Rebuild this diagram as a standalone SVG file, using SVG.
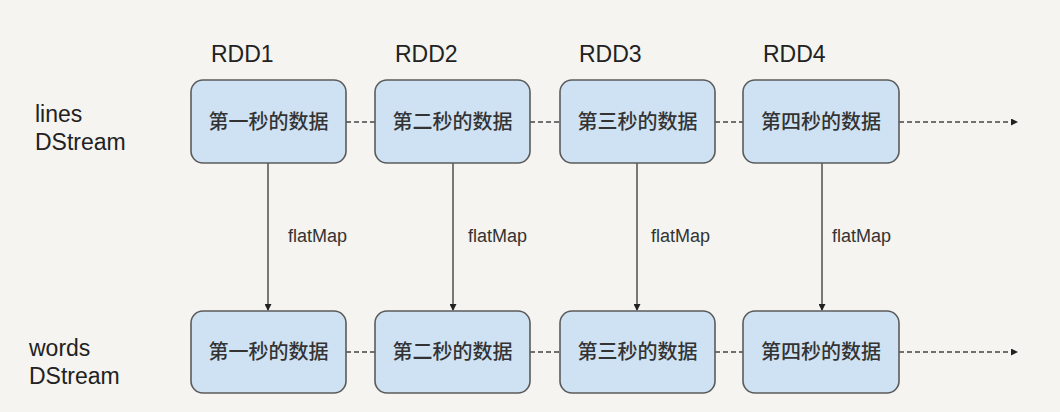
<svg xmlns="http://www.w3.org/2000/svg" width="1060" height="412" viewBox="0 0 1060 412">
<style>
.bg{fill:#f5f4f0}
.box{fill:#cfe2f3;stroke:#5b5b5b;stroke-width:1.6}
.cn{font-family:"Noto Sans CJK SC","Liberation Sans",sans-serif;font-size:20px;font-weight:500;fill:#333;text-anchor:middle}
.lbl{font-family:"Liberation Sans",Arial,sans-serif;font-size:23px;fill:#222}
.fm{font-family:"Liberation Sans",Arial,sans-serif;font-size:18px;fill:#333}
.dash{stroke:#444;stroke-width:1.4;stroke-dasharray:5 3;fill:none}
.solid{stroke:#444;stroke-width:1.4;fill:none}
</style>
<defs>
<marker id="ah" markerWidth="7" markerHeight="7" refX="6" refY="3.5" orient="auto" markerUnits="userSpaceOnUse">
<path d="M0,0 L7,3.5 L0,7 z" fill="#222"/>
</marker>
</defs>
<rect class="bg" x="0" y="0" width="1060" height="412"/>
<g id="labels">
<text class="lbl" x="211" y="62">RDD1</text>
<text class="lbl" x="395" y="62">RDD2</text>
<text class="lbl" x="579" y="62">RDD3</text>
<text class="lbl" x="763" y="62">RDD4</text>
<text class="lbl" x="35" y="122">lines</text>
<text class="lbl" x="35" y="150">DStream</text>
<text class="lbl" x="29" y="356">words</text>
<text class="lbl" x="29" y="384">DStream</text>
</g>
<g id="connectors">
<line class="dash" x1="346" y1="122" x2="375" y2="122"/>
<line class="dash" x1="530" y1="122" x2="560" y2="122"/>
<line class="dash" x1="715" y1="122" x2="743" y2="122"/>
<line class="dash" x1="899" y1="122" x2="1017" y2="122" marker-end="url(#ah)"/>
<line class="dash" x1="346" y1="352" x2="375" y2="352"/>
<line class="dash" x1="530" y1="352" x2="560" y2="352"/>
<line class="dash" x1="715" y1="352" x2="743" y2="352"/>
<line class="dash" x1="899" y1="352" x2="1017" y2="352" marker-end="url(#ah)"/>
<line class="solid" x1="268" y1="163" x2="268" y2="310" marker-end="url(#ah)"/>
<line class="solid" x1="453" y1="163" x2="453" y2="310" marker-end="url(#ah)"/>
<line class="solid" x1="637" y1="163" x2="637" y2="310" marker-end="url(#ah)"/>
<line class="solid" x1="822" y1="163" x2="822" y2="310" marker-end="url(#ah)"/>
<text class="fm" x="288" y="242">flatMap</text>
<text class="fm" x="468" y="242">flatMap</text>
<text class="fm" x="651" y="242">flatMap</text>
<text class="fm" x="832" y="242">flatMap</text>
</g>
<g id="l1"><rect class="box" x="191" y="80" width="155" height="83" rx="12"/><text class="cn" x="268.5" y="129">第一秒的数据</text></g>
<g id="l2"><rect class="box" x="375" y="80" width="155" height="83" rx="12"/><text class="cn" x="452.5" y="129">第二秒的数据</text></g>
<g id="l3"><rect class="box" x="560" y="80" width="155" height="83" rx="12"/><text class="cn" x="637.5" y="129">第三秒的数据</text></g>
<g id="l4"><rect class="box" x="743" y="80" width="156" height="83" rx="12"/><text class="cn" x="821" y="129">第四秒的数据</text></g>
<g id="w1"><rect class="box" x="191" y="311" width="155" height="82" rx="12"/><text class="cn" x="268.5" y="359">第一秒的数据</text></g>
<g id="w2"><rect class="box" x="375" y="311" width="155" height="82" rx="12"/><text class="cn" x="452.5" y="359">第二秒的数据</text></g>
<g id="w3"><rect class="box" x="560" y="311" width="155" height="82" rx="12"/><text class="cn" x="637.5" y="359">第三秒的数据</text></g>
<g id="w4"><rect class="box" x="743" y="311" width="156" height="82" rx="12"/><text class="cn" x="821" y="359">第四秒的数据</text></g>
</svg>
